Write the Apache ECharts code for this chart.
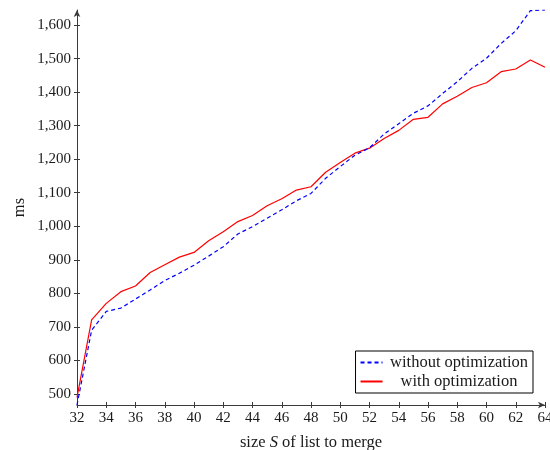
<!DOCTYPE html>
<html>
<head>
<meta charset="utf-8">
<script src="https://cdn.jsdelivr.net/npm/echarts@6/dist/echarts.min.js"></script>
<style>
  html, body { margin: 0; padding: 0; background: #fff; }
  #chart { width: 550px; height: 450px; }
</style>
</head>
<body>
<div id="chart"></div>
<script>
// List sizes S (x values)
const sizes = [32, 33, 34, 35, 36, 37, 38, 39, 40, 41, 42, 43, 44, 45, 46, 47, 48,
               49, 50, 51, 52, 53, 54, 55, 56, 57, 58, 59, 60, 61, 62, 63, 64];

// Merge times in ms
const withoutOptimization = [467, 690, 746, 756, 783, 810, 838, 860, 884, 911, 939, 977, 999, 1024, 1049, 1076, 1098,
                             1143, 1178, 1212, 1234, 1275, 1306, 1337, 1359, 1396, 1431, 1471, 1501, 1545, 1583, 1643, 1645];
const withOptimization = [490, 721, 770, 805, 822, 862, 885, 908, 922, 957, 984, 1014, 1032, 1061, 1082, 1108, 1118,
                          1161, 1190, 1218, 1233, 1262, 1286, 1319, 1325, 1365, 1388, 1414, 1428, 1461, 1469, 1496, 1474];

// Axis ticks
const xTicks = [32, 34, 36, 38, 40, 42, 44, 46, 48, 50, 52, 54, 56, 58, 60, 62, 64];
const yTicks = [500, 600, 700, 800, 900, 1000, 1100, 1200, 1300, 1400, 1500, 1600];

const seriesNames = ['without optimization', 'with optimization'];

const FONT = '"Liberation Serif", "DejaVu Serif", serif';
const TEXT = '#1a1a1a';
const AXIS = '#3a3a3a';
const WORD_SIZE = 16.5;

const pairs = (ys) => sizes.map((s, i) => [s, ys[i]]);
const yMin = Math.min(...withoutOptimization, ...withOptimization);
const yMax = Math.max(...withoutOptimization, ...withOptimization);
const fmt = (v) => Number(v).toLocaleString('en-US');

const gridRect = { left: 77, right: 5, top: 10, bottom: 45, outerBoundsMode: 'none', containLabel: false };

const chart = echarts.init(document.getElementById('chart'), null, { renderer: 'canvas' });
chart.setOption({
  animation: false,
  backgroundColor: '#fff',
  textStyle: { fontFamily: FONT, color: TEXT },
  grid: [
    Object.assign({}, gridRect),
    Object.assign({}, gridRect)
  ],
  legend: {
    data: seriesNames,
    orient: 'vertical',
    right: 17,
    bottom: 57,
    itemWidth: 22,
    itemHeight: 10,
    itemGap: 2,
    padding: [3, 5, 3, 4],
    borderColor: '#000',
    borderWidth: 1,
    backgroundColor: '#fff',
    itemStyle: { opacity: 0 },
    formatter: (name) => '{c|' + name + '}',
    textStyle: {
      fontFamily: FONT,
      fontSize: WORD_SIZE,
      color: TEXT,
      rich: { c: { width: 143, align: 'center', fontFamily: FONT, fontSize: WORD_SIZE, color: TEXT } }
    }
  },
  xAxis: [
    {
      type: 'value',
      gridIndex: 0,
      min: xTicks[0],
      max: xTicks[xTicks.length - 1],
      interval: 2,
      name: '{a|size }{i|S}{a| of list to merge}',
      nameLocation: 'middle',
      nameGap: 29,
      nameTextStyle: {
        rich: {
          a: { fontFamily: FONT, fontSize: WORD_SIZE, color: TEXT },
          i: { fontFamily: FONT, fontSize: WORD_SIZE, color: TEXT, fontStyle: 'italic' }
        }
      },
      axisLine: { show: true, symbol: ['none', 'arrow'], symbolSize: [5, 7], lineStyle: { color: AXIS, width: 1 } },
      axisTick: { show: true, length: 3, lineStyle: { color: AXIS } },
      axisLabel: { fontFamily: FONT, fontSize: 15, color: TEXT, margin: 6, showMaxLabel: true },
      splitLine: { show: false }
    },
    {
      type: 'value',
      gridIndex: 1,
      min: xTicks[0],
      max: xTicks[xTicks.length - 1],
      interval: 2,
      axisLine: { show: false },
      axisTick: { show: true, inside: true, length: 3, lineStyle: { color: AXIS } },
      axisLabel: { show: false },
      splitLine: { show: false }
    }
  ],
  yAxis: [
    {
      type: 'value',
      gridIndex: 0,
      min: yMin,
      max: yMax,
      name: 'ms',
      nameLocation: 'middle',
      nameGap: 49,
      nameMoveOverlap: false,
      nameTextStyle: { fontFamily: FONT, fontSize: WORD_SIZE, color: TEXT },
      axisLine: { show: true, symbol: ['none', 'arrow'], symbolSize: [5, 7], lineStyle: { color: AXIS, width: 1 } },
      axisTick: { show: true, length: 3, lineStyle: { color: AXIS }, customValues: yTicks },
      axisLabel: { fontFamily: FONT, fontSize: 15, color: TEXT, margin: 6, customValues: yTicks, formatter: fmt },
      splitLine: { show: false }
    },
    {
      type: 'value',
      gridIndex: 1,
      min: yMin,
      max: yMax,
      axisLine: { show: false },
      axisTick: { show: true, inside: true, length: 3, lineStyle: { color: AXIS }, customValues: yTicks },
      axisLabel: { show: false, customValues: yTicks },
      splitLine: { show: false }
    }
  ],
  series: [
    {
      name: seriesNames[0],
      type: 'line',
      xAxisIndex: 0,
      yAxisIndex: 0,
      data: pairs(withoutOptimization),
      showSymbol: false,
      symbol: 'none',
      color: '#0000ff',
      lineStyle: { color: '#0000ff', width: 1.2, type: [4, 3] },
      z: 3
    },
    {
      name: seriesNames[1],
      type: 'line',
      xAxisIndex: 0,
      yAxisIndex: 0,
      data: pairs(withOptimization),
      showSymbol: false,
      symbol: 'none',
      color: '#ff0000',
      lineStyle: { color: '#ff0000', width: 1.2 },
      z: 2
    }
  ]
});
</script>
</body>
</html>
